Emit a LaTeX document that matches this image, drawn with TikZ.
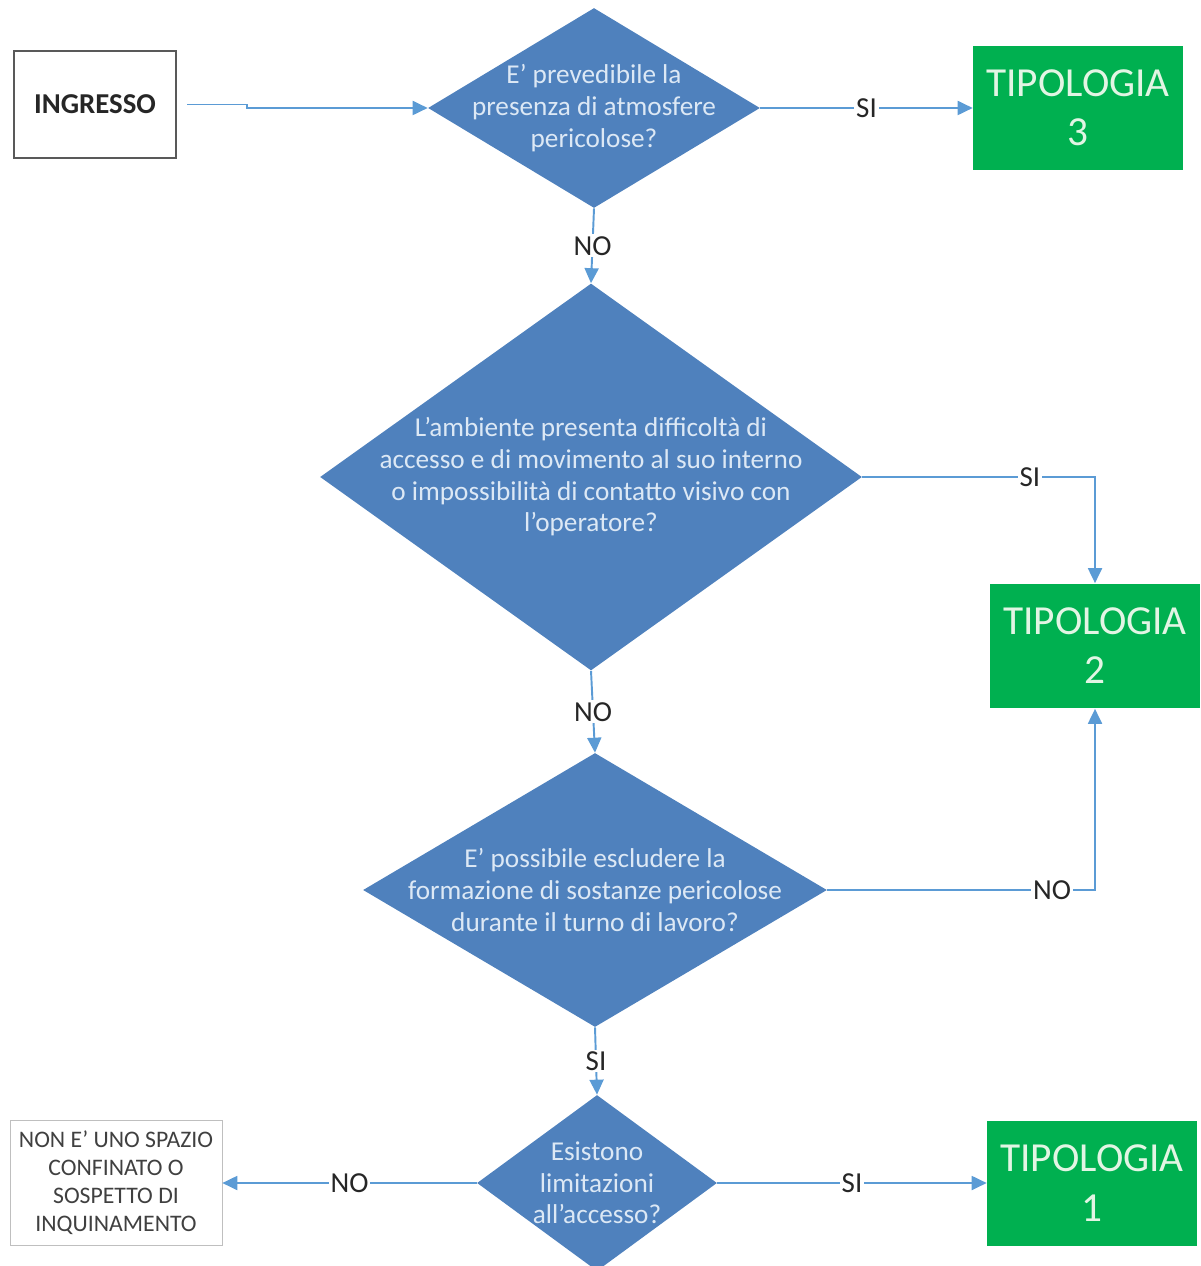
\documentclass[tikz,border=0pt]{standalone}
\usepackage{fontspec}
\setmainfont{Carlito}
\usetikzlibrary{shapes.geometric,arrows.meta}
\definecolor{dblue}{HTML}{4F81BD}
\definecolor{dtext}{HTML}{DCE8F5}
\definecolor{tgreen}{HTML}{00B050}
\definecolor{ttext}{HTML}{E2F5E4}
\definecolor{lineblue}{HTML}{5B9BD5}
\definecolor{boxgray}{HTML}{595959}
\begin{document}
\begin{tikzpicture}[x=0.02cm,y=-0.02cm,
  decision/.style={diamond,fill=dblue,inner sep=0pt},
  question/.style={text=dtext,align=center,font=\fontsize{15.5}{18}\selectfont},
  tipo/.style={fill=tgreen,text=ttext,align=center,minimum width=4.2cm,minimum height=2.5cm,font=\fontsize{23.5}{28}\selectfont},
  flow/.style={draw=lineblue,line width=1.1pt,-{Triangle[length=0.3cm,width=0.28cm]}},
  answer/.style={fill=white,inner sep=1pt,text=black!85,font=\fontsize{16.5}{19}\selectfont}]
\useasboundingbox (0,0) rectangle (1200,1266);
\node[draw=boxgray,line width=1.4pt,minimum width=3.24cm,minimum height=2.14cm,text=black!85,
  font=\bfseries\fontsize{16.4}{19}\selectfont] (ingresso) at (95,104.5) {INGRESSO};
\node[decision,minimum width=6.64cm,minimum height=4cm,
  label={[question]center:{E’ prevedibile la\\presenza di atmosfere\\pericolose?}}] (atmo) at (594,108) {};
\node[decision,minimum width=10.84cm,minimum height=7.74cm,
  label={[question]center:{L’ambiente presenta difficoltà di\\accesso e di movimento al suo interno\\o impossibilità di contatto visivo con\\l’operatore?}}] (amb) at (591,477) {};
\node[decision,minimum width=9.28cm,minimum height=5.48cm,
  label={[question]center:{E’ possibile escludere la\\formazione di sostanze pericolose\\durante il turno di lavoro?}}] (sost) at (595,890) {};
\node[decision,minimum width=4.8cm,minimum height=3.52cm,
  label={[question]center:{Esistono\\limitazioni\\all’accesso?}}] (limit) at (597,1183) {};
\node[tipo] (tipo3) at (1078,108) {TIPOLOGIA\\3};
\node[tipo] (tipo2) at (1095,646) {TIPOLOGIA\\2};
\node[tipo] (tipo1) at (1092,1183) {TIPOLOGIA\\1};
\node[draw=black!25,text=black!75,align=center,minimum width=4.24cm,minimum height=2.5cm,
  font=\fontsize{13.5}{16}\selectfont] (nonconf) at (116,1183) {NON E’ UNO SPAZIO\\CONFINATO O\\SOSPETTO DI\\INQUINAMENTO};
% connectors
\draw[flow] ([xshift=0.2cm]ingresso.east) -- ++(60,0) |- (atmo.west);
\draw[flow] (atmo.east) -- node[answer]{SI} (tipo3.west);
\draw[flow] (atmo.south) -- node[answer]{NO} (amb.north);
\draw[flow] (amb.east) -| node[answer,pos=0.36]{SI} (tipo2.north);
\draw[flow] (amb.south) -- node[answer]{NO} (sost.north);
\draw[flow] (sost.east) -| node[answer,pos=0.42]{NO} (tipo2.south);
\draw[flow] (sost.south) -- node[answer]{SI} (limit.north);
\draw[flow] (limit.east) -- node[answer]{SI} (tipo1.west);
\draw[flow] (limit.west) -- node[answer]{NO} (nonconf.east);
\end{tikzpicture}
\end{document}
